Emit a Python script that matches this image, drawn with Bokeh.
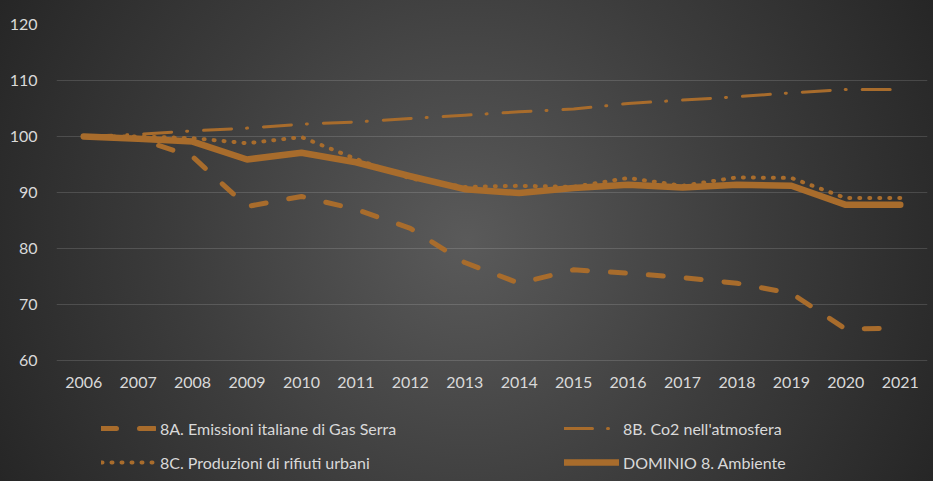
from bokeh.plotting import figure
from bokeh.models import Range1d, FixedTicker, Legend, LegendItem, InlineStyleSheet
from bokeh.embed import file_html
from bokeh.resources import INLINE

years = [str(y) for y in range(2006, 2022)]
emissioni_gas_serra = [100, 99.6, 96.4, 87.5, 89.3, 87.0, 83.6, 77.5, 73.8, 76.2, 75.6, 74.8, 73.8, 72.0, 65.6, 65.8]
co2_atmosfera = [100, 100.4, 101.0, 101.5, 102.2, 102.6, 103.2, 103.8, 104.4, 104.9, 105.9, 106.5, 107.1, 107.8, 108.4, 108.4]
rifiuti_urbani = [100, 100, 99.7, 98.8, 99.9, 96.0, 92.5, 91.0, 91.2, 91.0, 92.6, 91.2, 92.7, 92.6, 89.0, 89.0]
dominio_ambiente = [100, 99.6, 99.1, 95.9, 97.1, 95.4, 92.9, 90.6, 89.9, 90.8, 91.4, 90.9, 91.4, 91.2, 87.8, 87.8]

labels = ["8A. Emissioni italiane di Gas Serra", "8B. Co2 nell'atmosfera",
          "8C. Produzioni di rifiuti urbani", "DOMINIO 8. Ambiente"]
y_ticks = [60, 70, 80, 90, 100, 110, 120]

COL = "#A86C2C"
TXT = "#D9D9D9"
FONT = "Lato"

# frame runs from the top gridline (120) down to near the bottom edge, so the
# legend below the x labels stays inside the frame (no clipping)
p = figure(width=933, height=481, x_range=years, y_range=Range1d(39.29, 120),
           output_backend="svg", toolbar_location=None,
           min_border_left=56, min_border_right=6, min_border_top=24, min_border_bottom=5)

p.stylesheets = [InlineStyleSheet(css=":host { background: radial-gradient(circle farthest-corner at 50% 50%, #5a5a5a 0%, #3c3c3c 55%, #262626 100%); }")]
p.background_fill_alpha = 0
p.border_fill_alpha = 0
p.outline_line_color = None

p.xgrid.grid_line_color = None
p.ygrid.grid_line_color = "#FFFFFF"
p.ygrid.grid_line_alpha = 0.14
p.ygrid.grid_line_width = 1

p.yaxis.ticker = FixedTicker(ticks=y_ticks)
p.xaxis.fixed_location = y_ticks[0]
for ax in (p.xaxis, p.yaxis):
    ax.axis_line_color = None
    ax.major_tick_line_color = None
    ax.minor_tick_line_color = None
    ax.major_label_text_color = TXT
    ax.major_label_text_font = FONT
    ax.major_label_text_font_size = "16px"
p.yaxis.major_label_standoff = 13
p.xaxis.major_label_standoff = 10

r_a = p.line(years, emissioni_gas_serra, line_color=COL, line_width=5, line_dash="15 23", line_cap="round", line_join="round")
r_b = p.line(years, co2_atmosfera, line_color=COL, line_width=3, line_dash="28 15 1 16", line_cap="round", line_join="round")
r_c = p.line(years, rifiuti_urbani, line_color=COL, line_width=4, line_dash="1 9", line_cap="round", line_join="round")
r_d = p.line(years, dominio_ambiente, line_color=COL, line_width=6.5, line_cap="round", line_join="round")

legend = Legend(items=[LegendItem(label=labels[0], renderers=[r_a]),
                       LegendItem(label=labels[1], renderers=[r_b]),
                       LegendItem(label=labels[2], renderers=[r_c]),
                       LegendItem(label=labels[3], renderers=[r_d])],
                location=(45, 4), orientation="horizontal", ncols=2,
                background_fill_alpha=0, border_line_color=None,
                label_text_color=TXT, label_text_font=FONT, label_text_font_size="16px",
                glyph_width=55, glyph_height=20, label_standoff=4, label_height=20,
                label_width=390, spacing=14, padding=0, margin=0)
p.add_layout(legend)

open("out.html", "w").write(file_html(p, INLINE))
